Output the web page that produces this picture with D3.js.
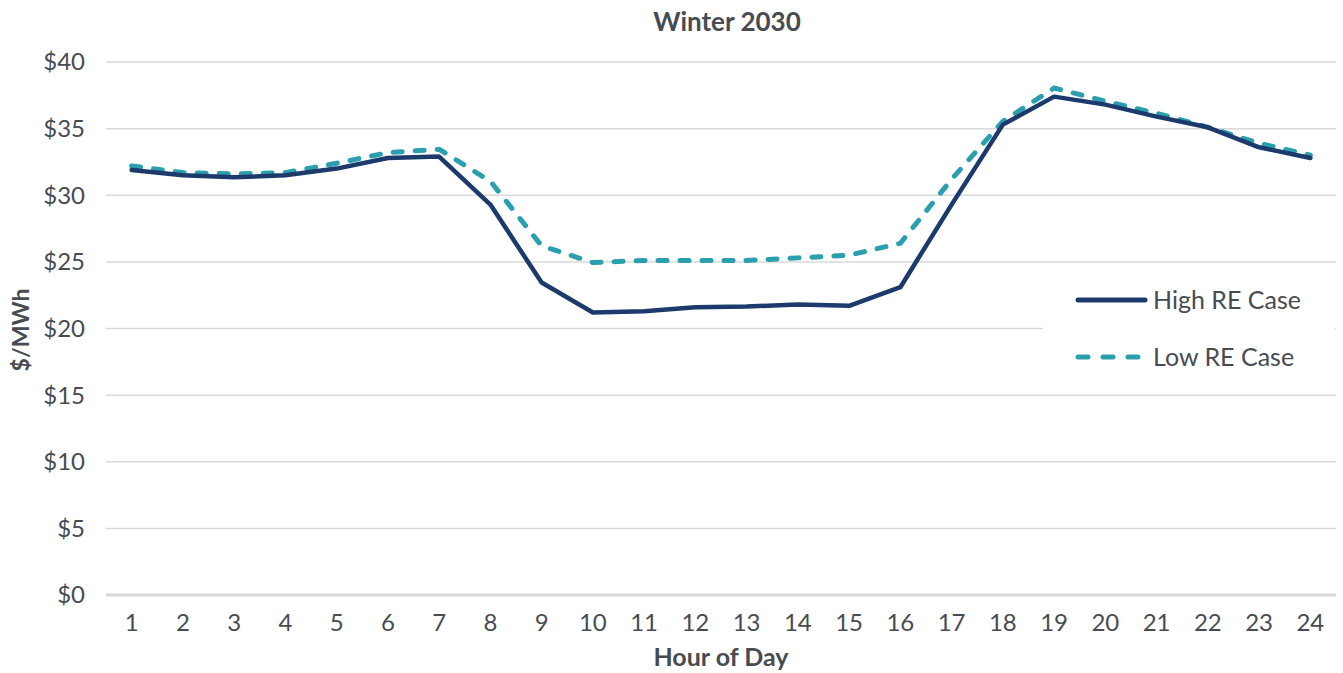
<!DOCTYPE html>
<html>
<head>
<meta charset="utf-8">
<script src="https://cdn.jsdelivr.net/npm/d3@7"></script>
<style>
  body { margin: 0; background: #fff; }
  svg text { font-family: Lato, "Open Sans", sans-serif; fill: #474c52; }
</style>
</head>
<body>
<div id="chart"></div>
<script>
// hourly prices, $/MWh
var hours = d3.range(1, 25);
var highRE = [31.9, 31.5, 31.35, 31.5, 32.0, 32.8, 32.9, 29.3, 23.45, 21.2, 21.3, 21.6,
              21.65, 21.8, 21.7, 23.1, 29.3, 35.3, 37.4, 36.8, 35.9, 35.1, 33.6, 32.8];
var lowRE = [32.2, 31.7, 31.6, 31.7, 32.4, 33.2, 33.45, 31.05, 26.2, 24.95, 25.1, 25.1,
             25.1, 25.3, 25.5, 26.4, 31.2, 35.55, 38.05, 37.05, 36.15, 35.1, 33.9, 33.0];
var yTicks = [0, 5, 10, 15, 20, 25, 30, 35, 40];
var seriesNames = ["High RE Case", "Low RE Case"];

var width = 1343, height = 673;
var margin = {left: 106, right: 7, top: 62, bottom: 78};
var navy = "#1c3a6c", teal = "#2a9fae";

var svg = d3.select("#chart").append("svg")
    .attr("width", width)
    .attr("height", height);

var x = d3.scaleBand().domain(hours).range([margin.left, width - margin.right]);
var y = d3.scaleLinear().domain([0, 40]).range([height - margin.bottom, margin.top]);
var cx = function(h){ return x(h) + x.bandwidth() / 2; };

// gridlines
svg.append("g").selectAll("line")
    .data(yTicks)
    .enter().append("line")
    .attr("x1", margin.left)
    .attr("x2", width - margin.right)
    .attr("y1", function(d){ return y(d); })
    .attr("y2", function(d){ return y(d); })
    .attr("stroke", "#d9d9d9")
    .attr("stroke-width", function(d){ return d === 0 ? 3 : 1.5; });

// y tick labels
svg.append("g").selectAll("text")
    .data(yTicks)
    .enter().append("text")
    .attr("x", 85)
    .attr("y", function(d){ return y(d); })
    .attr("dy", "0.35em")
    .attr("text-anchor", "end")
    .style("font-size", "24px")
    .text(function(d){ return "$" + d; });

// x tick labels
svg.append("g").selectAll("text")
    .data(hours)
    .enter().append("text")
    .attr("x", function(d){ return cx(d); })
    .attr("y", 623)
    .attr("dy", "0.35em")
    .attr("text-anchor", "middle")
    .style("font-size", "24px")
    .text(function(d){ return d; });

// titles
svg.append("text")
    .attr("x", 727).attr("y", 31)
    .attr("text-anchor", "middle")
    .style("font-size", "26px").style("font-weight", "bold")
    .text("Winter 2030");

svg.append("text")
    .attr("x", 721).attr("y", 666)
    .attr("text-anchor", "middle")
    .style("font-size", "25px").style("font-weight", "bold")
    .text("Hour of Day");

svg.append("text")
    .attr("transform", "translate(29,330) rotate(-90)")
    .attr("text-anchor", "middle")
    .style("font-size", "23px").style("font-weight", "bold")
    .text("$/MWh");

// lines
var line = d3.line()
    .x(function(d, i){ return cx(hours[i]); })
    .y(function(d){ return y(d); });

svg.append("path")
    .datum(lowRE)
    .attr("d", line)
    .attr("fill", "none")
    .attr("stroke", teal)
    .attr("stroke-width", 5)
    .attr("stroke-linecap", "round")
    .attr("stroke-dasharray", "9,13");

svg.append("path")
    .datum(highRE)
    .attr("d", line)
    .attr("fill", "none")
    .attr("stroke", navy)
    .attr("stroke-width", 4.5)
    .attr("stroke-linejoin", "round")
    .attr("stroke-linecap", "round");

// legend
var legend = svg.append("g");
legend.append("rect")
    .attr("x", 1043).attr("y", 270)
    .attr("width", 292).attr("height", 115)
    .attr("fill", "#fff");

var legendRows = legend.selectAll("g.row")
    .data(seriesNames)
    .enter().append("g")
    .attr("class", "row")
    .attr("transform", function(d, i){ return "translate(0," + (300 + i * 57) + ")"; });

legendRows.append("line")
    .attr("x1", 1078).attr("x2", 1145)
    .attr("y1", 0).attr("y2", 0)
    .attr("stroke", function(d, i){ return i === 0 ? navy : teal; })
    .attr("stroke-width", 5)
    .attr("stroke-linecap", "round")
    .attr("stroke-dasharray", function(d, i){ return i === 0 ? null : "10,15"; });

legendRows.append("text")
    .attr("x", 1153).attr("y", 0)
    .attr("dy", "0.35em")
    .style("font-size", "25px")
    .text(function(d){ return d; });
</script>
</body>
</html>
